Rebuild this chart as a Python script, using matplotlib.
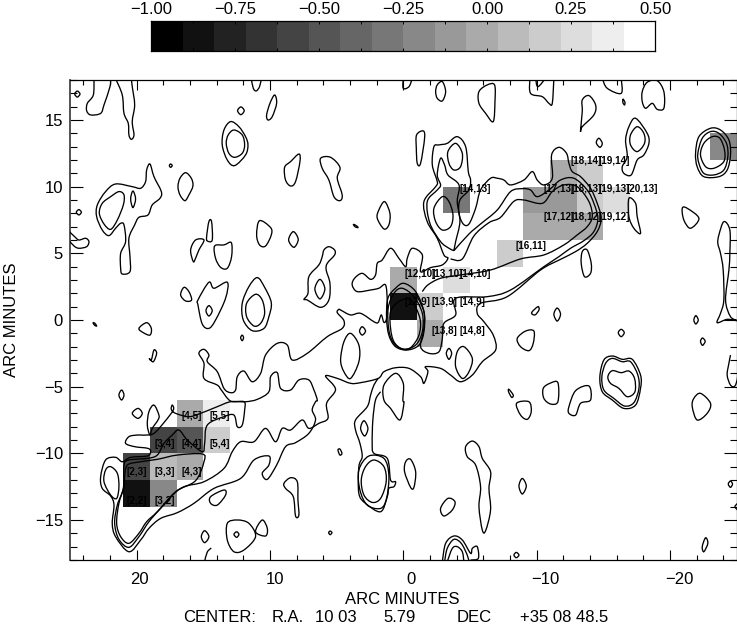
import numpy as np
import matplotlib
matplotlib.use('Agg')
import matplotlib.pyplot as plt
from matplotlib.path import Path
from matplotlib.patches import PathPatch
from matplotlib.colors import ListedColormap, BoundaryNorm
from matplotlib.ticker import MultipleLocator
from matplotlib.transforms import ScaledTranslation

plt.rcParams['font.family'] = ['Liberation Sans', 'DejaVu Sans']

# optical depth cells, pixel indices (i, j) and value
cell_i = [2, 3, 2, 3, 4, 3, 4, 5, 4, 5, 12, 14, 12, 13, 13, 16, 14, 17, 18, 19, 17, 18, 19, 20, 18, 19, 24]
cell_j = [2, 2, 3, 3, 3, 4, 4, 4, 5, 5, 10, 10, 9, 9, 8, 11, 13, 12, 12, 12, 13, 13, 13, 13, 14, 14, 15]
cell_val = [-0.86, -0.20, -0.58, 0.08, -0.02, -0.58, -0.48, 0.17, -0.02, 0.36, -0.02, 0.27, -0.86, 0.17, -0.02,
            0.17, -0.30, -0.02, -0.02, -0.02, -0.11, -0.11, 0.17, 0.27, -0.02, 0.17, -0.20]

label_i = [2, 3, 2, 3, 4, 3, 4, 5, 4, 5, 12, 13, 14, 12, 13, 14, 13, 14, 16, 14, 17, 18, 19, 17, 18, 19, 20, 18, 19]
label_j = [2, 2, 3, 3, 3, 4, 4, 4, 5, 5, 10, 10, 10, 9, 9, 9, 8, 8, 11, 13, 12, 12, 12, 13, 13, 13, 13, 14, 14]

x_ticks = [20, 10, 0, -10, -20]
y_ticks = [15, 10, 5, 0, -5, -10, -15]
bar_ticks = [-1.00, -0.75, -0.50, -0.25, 0.00, 0.25, 0.50]
bar_levels = np.arange(0, 16) * 17

# radio contours, in arc minutes
main_west = [(1.25, 0.13), (1.45, -0.18), (1.65, 0.38), (1.88, -0.18), (2.2, -0.13), (3.2, 0.5), (3.95, 0.38), (4.7, 0.75),
             (4.83, 0.8), (4.95, 0.55), (4.45, -0.05), (4.58, -0.63), (5.7, -1.25), (7.2, -2.5), (8.33, -3.0), (8.7, -1.88),
             (9.45, -1.75), (10.33, -2.63), (10.7, -4.0), (11.33, -4.63), (11.95, -3.83), (12.45, -4.25), (12.58, -5.25),
             (12.95, -5.45), (13.45, -5.13), (13.95, -3.88), (14.7, -3.13), (14.58, -2.63), (14.95, -2.2), (15.33, -2.5),
             (14.95, -3.25), (14.95, -4.38), (13.95, -4.88), (13.65, -5.25), (12.95, -6.08), (11.95, -6.13), (11.9, -6.75),
             (12.08, -7.88), (12.45, -8.0), (12.7, -7.13), (13.45, -7.25), (14.7, -7.88), (14.9, -9.25), (15.08, -9.88),
             (16.2, -9.0), (16.83, -8.25), (17.33, -8.63), (17.95, -9.25), (18.45, -10.13), (19.2, -10.38), (20.58, -10.5),
             (20.95, -10.88), (21.0, -12.63), (21.45, -13.88), (21.65, -15.25), (21.33, -16.45), (20.58, -17.05),
             (19.83, -16.25), (19.08, -15.13), (18.2, -14.13), (16.7, -12.63), (14.95, -12.13), (13.45, -11.13),
             (12.83, -9.88), (12.2, -9.13), (11.2, -9.13), (10.33, -8.13), (9.58, -9.13), (9.08, -8.13), (8.45, -8.25),
             (7.58, -7.5), (7.08, -8.13), (6.33, -7.75), (5.65, -7.38), (5.75, -6.25), (5.08, -5.2), (5.83, -4.2),
             (4.95, -4.38), (3.95, -4.75), (3.2, -4.7), (1.88, -4.38), (1.45, -3.88), (0.58, -3.58), (-0.43, -3.63),
             (-1.3, -4.25), (-1.55, -4.75), (-1.85, -3.88), (-1.68, -3.5), (-2.8, -3.63), (-3.55, -4.13), (-4.3, -4.63),
             (-5.18, -4.13), (-5.93, -3.13), (-6.93, -2.25), (-6.75, -1.13), (-6.05, -0.13), (-5.55, 0.5), (-5.8, 1.25),
             (-7.8, 1.75), (-10.3, 3.75), (-11.8, 4.55), (-12.93, 5.13), (-13.8, 5.75), (-14.55, 6.63), (-14.85, 7.63),
             (-14.55, 8.75), (-14.05, 9.88), (-13.3, 10.75), (-12.68, 11.13), (-12.43, 11.75), (-12.25, 12.5), (-11.68, 12.95),
             (-11.13, 12.38), (-11.18, 10.63), (-10.55, 10.13), (-10.05, 10.5), (-9.68, 11.13), (-9.05, 10.5), (-8.05, 10.13),
             (-7.55, 10.5), (-7.05, 10.63), (-6.55, 10.63), (-5.8, 9.75), (-5.43, 8.38), (-4.93, 7.2), (-4.5, 7.2), (-4.18, 8.0),
             (-4.25, 9.0), (-4.93, 9.75), (-5.05, 10.5), (-4.88, 11.13), (-4.68, 13.0), (-4.05, 13.75), (-3.3, 13.25),
             (-2.68, 13.13), (-2.3, 13.0), (-2.18, 11.63), (-2.55, 10.38), (-2.43, 10.0), (-1.55, 8.88), (-1.8, 7.38),
             (-2.55, 6.13), (-3.05, 4.88), (-3.35, 4.63), (-2.93, 4.13), (-2.05, 3.93), (-1.3, 3.63), (-1.43, 4.88),
             (-0.68, 5.38), (-0.3, 4.63), (-0.18, 4.0), (0.33, 4.63), (0.95, 5.38), (1.58, 4.5), (1.95, 4.25), (2.08, 3.38),
             (2.45, 3.05), (3.08, 3.5), (3.65, 3.13), (3.83, 2.63), (3.45, 2.13), (2.45, 2.25), (1.83, 2.38), (1.33, 2.63),
             (1.2, 1.38)]
lobe_outer = [(6.45, -6.0), (6.7, -5.25), (7.08, -4.5), (7.83, -4.5), (8.45, -5.25), (9.2, -5.13), (9.45, -3.95), (9.95, -4.25),
              (10.08, -5.38), (10.95, -5.95), (11.83, -6.13), (12.95, -6.13), (13.95, -6.5), (15.2, -7.0), (16.08, -7.25),
              (17.08, -7.0), (17.4, -6.7), (17.33, -6.38), (17.25, -6.75), (17.9, -7.63), (18.7, -8.5), (19.33, -8.63),
              (19.95, -8.63), (20.58, -8.75), (20.83, -9.25), (20.15, -9.5), (19.15, -9.63), (18.95, -9.88), (19.2, -10.2),
              (20.45, -10.3), (21.08, -10.63), (21.58, -10.3), (22.33, -10.5), (22.7, -11.75), (22.58, -12.63), (21.95, -13.2),
              (21.7, -13.88), (21.83, -15.25), (21.58, -16.25), (20.58, -17.38), (19.7, -16.5), (19.08, -15.63), (18.2, -14.88),
              (16.95, -14.45), (15.7, -13.75), (14.2, -12.63), (12.2, -11.88), (11.2, -10.5), (10.08, -10.2), (10.08, -10.88),
              (10.58, -11.5), (10.2, -11.95), (9.5, -10.88), (8.83, -9.5), (8.08, -9.2), (7.08, -8.5), (6.58, -7.5), (6.83, -6.75),
              (6.58, -6.13)]
lobe_inner = [(21.5, -15.25), (21.2, -16.25), (20.58, -16.75), (19.83, -16.0), (19.25, -15.13), (18.45, -14.38), (17.08, -12.88),
              (15.58, -12.05), (14.95, -10.63), (15.08, -10.05), (16.95, -10.13), (18.45, -10.45), (19.7, -10.63), (20.7, -10.88),
              (20.9, -11.75), (20.95, -12.5), (21.33, -13.75)]
lobe_loop = [(22.33, -11.25), (21.95, -11.0), (21.45, -11.5), (21.33, -12.5), (21.5, -13.38), (21.95, -13.13), (22.45, -12.13)]
jet_second = [(-3.8, 5.2), (-4.93, 6.45), (-5.8, 7.2), (-7.05, 8.25), (-8.05, 9.63), (-8.93, 9.85), (-9.55, 9.75), (-10.05, 9.25),
              (-10.93, 9.75), (-11.8, 10.5), (-12.8, 10.63), (-13.8, 9.75), (-14.3, 8.75), (-14.6, 7.63), (-14.3, 6.63),
              (-13.55, 5.95), (-12.55, 5.38), (-11.68, 4.75), (-10.55, 4.0), (-8.05, 2.25), (-6.3, 1.75), (-3.93, 1.63),
              (-3.93, 0.38), (-3.05, -0.25), (-2.93, -1.38), (-2.68, -2.38), (-1.93, -2.5), (-1.3, -2.0), (-1.55, -0.63),
              (-1.55, 0.63), (-0.93, 2.0)]
jet_second_north = [(-3.8, 5.2), (-3.43, 5.38), (-2.8, 5.88), (-2.0, 7.25), (-1.8, 8.88), (-2.55, 9.75), (-2.8, 10.13), (-2.55, 10.88),
                    (-2.8, 12.13), (-3.1, 11.63), (-3.35, 10.88), (-4.18, 10.13), (-4.05, 8.88), (-4.25, 7.38), (-3.93, 5.88),
                    (-3.8, 5.2)]
jet_third = [(-3.55, 4.58), (-4.43, 4.58), (-5.3, 6.3), (-6.43, 7.3), (-7.3, 7.7), (-8.3, 8.9), (-9.05, 9.0), (-10.43, 8.75),
             (-11.18, 9.63), (-12.05, 10.13), (-13.05, 10.0), (-13.93, 8.88), (-14.18, 7.75), (-13.8, 7.0), (-13.05, 6.38),
             (-12.05, 5.63), (-10.55, 4.88), (-8.8, 4.58), (-6.55, 3.75), (-4.3, 3.38), (-2.8, 3.13), (-1.85, 2.63), (-1.43, 2.13)]
south_chain = [(1.7, -5.38), (2.08, -6.0), (2.28, -7.5), (2.33, -9.25), (2.2, -10.0), (1.2, -10.38), (0.95, -12.0), (0.58, -12.13),
               (0.7, -12.5), (1.08, -12.63), (1.2, -13.25), (1.7, -14.38), (2.83, -13.75), (3.33, -13.0), (3.33, -11.0),
               (3.08, -10.25), (3.25, -9.25), (3.58, -8.25), (3.58, -7.5), (2.7, -6.5), (2.45, -5.63), (2.2, -4.88), (1.88, -4.38)]

core_outer = [(-0.05, 2.75), (-0.93, 2.13), (-1.55, 0.63), (-1.55, -0.88), (-1.18, -1.88), (-0.3, -2.25), (0.58, -2.0), (1.08, -1.13),
              (1.25, 0.13), (1.15, 1.63), (0.58, 2.38)]
core_mid = [(0.08, 2.38), (-0.8, 1.75), (-1.43, 0.5), (-1.43, -0.88), (-0.93, -1.88), (-0.05, -2.18), (0.7, -1.75), (1.08, -0.75),
            (1.13, 0.88), (0.7, 2.0)]
core_inner = [(0.95, 0.63), (0.33, 1.38), (-0.55, 1.5), (-1.25, 0.13), (-1.18, -1.13), (-0.55, -2.08), (0.08, -2.18), (0.7, -1.63),
              (0.95, -0.63)]

closed_contours = [
    main_west, lobe_outer, lobe_inner, lobe_loop, core_outer, core_mid, core_inner,
    [(24.65, 16.95), (24.45, 17.17), (24.25, 16.95), (24.45, 16.72)],
    [(12.95, 14.88), (12.33, 14.5), (11.83, 13.75), (11.65, 13.13), (11.83, 12.38), (12.65, 11.58), (13.2, 12.0), (13.58, 13.13), (13.45, 14.25)],
    [(12.7, 14.25), (12.08, 13.88), (11.9, 13.13), (12.08, 12.5), (12.65, 12.2), (13.08, 12.5), (13.28, 13.25), (13.13, 13.88)],
    [(12.43, 15.7), (12.18, 15.98), (11.93, 15.7), (12.18, 15.4)],
    [(9.65, 16.88), (9.5, 16.25), (9.83, 15.25), (10.15, 15.0), (10.25, 15.38), (10.0, 16.25)],
    [(17.55, 11.58), (17.45, 11.7), (17.33, 11.58), (17.45, 11.45)],
    [(16.33, 11.05), (15.9, 10.63), (15.78, 10.05), (16.08, 9.38), (16.38, 8.95), (16.75, 9.38), (16.9, 10.0), (16.75, 10.63)],
    [(19.0, 11.7), (18.7, 10.75), (18.15, 9.63), (18.25, 9.13), (18.83, 8.63), (19.15, 7.88), (19.83, 7.7), (20.15, 7.13), (20.58, 6.13),
     (20.5, 4.75), (20.5, 3.63), (21.08, 3.45), (21.2, 3.88), (21.2, 5.0), (20.83, 5.88), (20.95, 7.13), (21.2, 7.25), (21.58, 6.88),
     (22.08, 6.33), (22.58, 6.75), (23.0, 7.75), (22.95, 8.63), (22.33, 9.63), (21.58, 10.2), (20.33, 10.0), (19.7, 9.88), (19.33, 10.38),
     (19.25, 11.25)],
    [(21.33, 9.63), (20.95, 9.38), (21.0, 8.63), (21.45, 7.5), (21.95, 6.8), (22.45, 7.2), (22.8, 8.0), (22.58, 8.75), (21.95, 9.25)],
    [(20.28, 9.68), (20.08, 9.08), (20.28, 8.43), (20.45, 9.08)],
    [(24.53, 8.08), (24.33, 8.28), (24.15, 8.08), (24.33, 7.88)],
    [(15.75, 4.38), (15.95, 5.25), (15.58, 6.0), (14.95, 6.0), (15.33, 5.25), (15.58, 4.63)],
    [(14.58, 7.38), (14.38, 7.38), (14.33, 6.0), (14.7, 5.93), (14.75, 6.25)],
    [(14.15, 5.55), (13.45, 5.63), (12.9, 5.8), (12.88, 4.75), (13.2, 3.88), (13.7, 3.95), (14.08, 4.63)],
    [(10.78, 7.45), (9.95, 6.93), (9.9, 6.38), (10.33, 5.55), (10.78, 5.63), (11.0, 6.38)],
    [(8.25, 6.63), (7.88, 6.05), (8.2, 5.45), (8.6, 6.0)],
    [(3.75, 7.18), (3.53, 7.08), (3.38, 6.93), (3.6, 6.98)],
    [(16.45, 2.45), (16.08, 2.13), (15.88, 1.5), (16.33, 1.43), (16.7, 1.88)],
    [(15.4, 1.5), (14.58, 2.83), (14.2, 2.38), (13.2, 2.83), (13.33, 1.63), (14.08, 0.0), (14.58, -0.63), (15.08, -0.3), (15.4, 1.13)],
    [(14.58, 1.08), (14.33, 0.7), (14.58, 0.3), (14.8, 0.7)],
    [(10.95, 3.18), (10.4, 2.45), (9.9, 1.3), (10.08, 0.25), (10.45, -0.63), (11.33, -0.8), (12.0, 0.0), (12.08, 1.25), (11.58, 2.5)],
    [(11.08, 1.93), (10.58, 1.5), (10.4, 0.5), (10.7, -0.25), (11.2, -0.45), (11.75, 0.25), (11.75, 1.25)],
    [(5.58, 5.5), (5.15, 5.25), (5.15, 4.88), (5.7, 4.25), (5.78, 3.75), (5.5, 2.75), (5.58, 1.5), (6.2, 0.95), (7.2, 1.5), (7.45, 1.55),
     (7.15, 2.0), (7.08, 3.25), (6.33, 4.13), (6.08, 4.75), (5.95, 5.25)],
    [(6.25, 3.05), (5.88, 2.33), (6.25, 1.58), (6.63, 2.33)],
    [(6.2, 12.13), (5.45, 12.2), (4.75, 11.45), (4.95, 10.63), (4.58, 9.38), (4.75, 8.95), (5.2, 9.25), (5.58, 10.5), (6.08, 11.38)],
    [(7.83, 12.45), (7.75, 11.88), (8.08, 10.38), (8.45, 10.05), (8.83, 10.5), (8.9, 11.45), (8.45, 11.88)],
    [(23.28, -0.2), (23.13, -0.25), (23.0, -0.45), (23.15, -0.4)],
    [(19.83, -0.63), (19.25, -0.2), (18.9, -0.63), (19.0, -1.13), (19.5, -0.95)],
    [(18.9, -3.0), (18.7, -2.25), (18.5, -2.5), (18.75, -3.13), (19.05, -2.88)],
    [(21.13, -5.25), (20.95, -5.63), (21.13, -6.0), (21.33, -5.63)],
    [(12.08, -1.13), (11.98, -1.33), (12.08, -1.55), (12.2, -1.33)],
    [(18.7, -6.38), (18.33, -7.13), (18.4, -7.5), (18.83, -8.13), (19.0, -8.63), (19.2, -7.88), (19.08, -6.88)],
    [(20.33, -7.0), (19.9, -6.63), (19.58, -7.0), (19.9, -7.38)],
    [(14.45, -13.25), (13.45, -12.75), (13.33, -13.13), (13.95, -13.88), (14.45, -13.75)],
    [(14.9, -15.8), (14.58, -16.25), (14.9, -16.7), (15.15, -16.25)],
    [(12.5, -15.88), (12.33, -16.08), (12.5, -16.3), (12.7, -16.08)],
    [(13.2, -15.25), (12.45, -15.0), (11.58, -15.25), (11.08, -16.25), (11.95, -17.25), (12.7, -17.38), (13.2, -16.5)],
    [(11.08, -15.88), (10.58, -15.0), (10.2, -15.63), (10.33, -16.2)],
    [(4.9, -9.75), (4.75, -9.68), (4.6, -10.0), (4.75, -10.13)],
    [(5.6, -15.95), (5.48, -15.83), (5.35, -15.95), (5.48, -16.1)],
    [(8.95, -12.25), (8.45, -11.83), (7.95, -12.13), (7.9, -13.5), (7.83, -14.63), (8.08, -14.7), (8.25, -13.25), (8.83, -12.63)],
    [(2.95, -7.55), (2.65, -8.13), (2.9, -8.7), (3.2, -8.13)],
    [(2.58, -10.2), (1.45, -10.38), (1.08, -11.63), (1.25, -13.38), (1.7, -14.13), (2.7, -13.88), (3.25, -12.75), (3.33, -11.25)],
    [(2.2, -10.5), (1.45, -11.0), (1.28, -12.13), (1.7, -13.38), (2.33, -13.68), (2.95, -13.13), (3.15, -12.0), (2.83, -11.0)],
    [(-0.18, -10.63), (-0.55, -10.45), (-0.93, -11.38), (-0.8, -12.55), (-0.55, -12.55), (-0.1, -11.38)],
    [(-2.8, -14.13), (-3.35, -13.38), (-3.88, -13.63), (-3.68, -14.25), (-3.05, -14.7)],
    [(-4.68, -9.5), (-5.18, -9.08), (-5.68, -9.5), (-5.93, -10.38), (-6.55, -11.38), (-6.43, -12.63), (-6.55, -14.25), (-6.18, -15.8),
     (-5.93, -15.75), (-5.68, -14.0), (-5.8, -12.5), (-5.43, -10.88), (-4.8, -10.25)],
    [(1.45, -4.88), (0.58, -4.0), (0.0, -4.75), (0.03, -6.0), (-0.05, -6.25), (0.25, -7.5), (0.95, -6.63), (1.45, -6.0)],
    [(-4.55, -2.0), (-5.18, -2.88), (-4.93, -3.88), (-4.43, -4.38), (-3.93, -3.5), (-4.05, -2.38)],
    [(-3.43, -2.13), (-3.63, -2.5), (-3.43, -2.95), (-3.23, -2.5)],
    [(3.08, -0.5), (2.83, -0.83), (3.08, -1.13), (3.28, -0.83)],
    [(3.95, -1.0), (3.33, -1.88), (3.33, -3.13), (3.95, -4.38), (4.45, -3.88), (4.7, -3.0), (4.45, -1.63)],
    [(-2.93, 9.25), (-3.43, 8.88), (-3.73, 7.88), (-3.55, 7.0), (-2.93, 6.75), (-2.43, 7.38), (-2.3, 8.38)],
    [(-3.93, 13.25), (-4.43, 12.5), (-4.3, 11.5), (-3.8, 11.25), (-3.43, 11.75), (-3.35, 12.63)],
    [(-2.55, 17.63), (-2.93, 17.88), (-3.18, 17.13), (-2.93, 16.43), (-2.55, 16.63), (-2.43, 17.13)],
    [(-5.68, 17.13), (-6.3, 17.63), (-6.85, 17.63), (-6.88, 16.38), (-6.75, 14.88), (-6.18, 15.5), (-5.68, 16.25)],
    [(-1.0, 13.88), (-1.5, 14.18), (-1.6, 13.63), (-1.3, 11.75), (-1.05, 11.75), (-0.98, 12.88)],
    [(1.4, 8.88), (1.0, 8.0), (1.08, 7.13), (1.45, 6.83), (1.95, 7.63), (1.83, 8.25)],
    [(-10.1, 1.0), (-10.18, 0.75), (-9.88, 0.38), (-9.63, 0.55)],
    [(-11.55, 0.9), (-11.8, 0.43), (-11.55, -0.08), (-11.3, 0.43)],
    [(-8.55, -1.38), (-9.18, -0.83), (-9.8, -0.83), (-9.75, -1.75), (-9.43, -2.3), (-8.8, -2.0)],
    [(-16.13, -0.95), (-16.35, -0.7), (-16.58, -0.95), (-16.35, -1.25)],
    [(-21.95, 0.33), (-22.13, 0.0), (-21.95, -0.3), (-21.8, 0.0)],
    [(-22.3, -1.6), (-22.45, -1.35), (-22.65, -1.6), (-22.45, -1.9)],
    [(-22.3, -5.5), (-23.05, -6.25), (-22.8, -7.0), (-22.05, -7.5), (-21.68, -6.5), (-21.8, -5.88)],
    [(-24.38, -12.3), (-24.55, -12.08), (-24.7, -12.3), (-24.55, -12.55)],
    [(-22.68, -16.33), (-22.85, -16.75), (-22.55, -17.38), (-22.43, -17.0)],
    [(-8.3, -17.63), (-8.48, -17.43), (-8.68, -17.63), (-8.48, -17.83)],
    [(-8.93, -11.88), (-9.23, -12.45), (-8.93, -13.05), (-8.68, -12.45)],
    [(-7.93, -5.2), (-8.25, -5.63), (-8.13, -5.8), (-7.9, -5.38)],
    [(-8.5, -6.25), (-9.43, -6.13), (-9.6, -6.88), (-9.3, -7.45), (-8.8, -7.13)],
    [(-10.5, -5.13), (-11.0, -4.75), (-11.6, -4.7), (-11.6, -6.13), (-11.05, -6.3), (-10.55, -5.88)],
    [(-12.93, -5.3), (-13.93, -4.95), (-14.05, -6.0), (-13.3, -6.25), (-12.93, -7.13), (-12.43, -7.0), (-12.43, -6.5)],
    [(-15.68, -2.7), (-16.43, -2.95), (-17.18, -2.95), (-17.8, -4.13), (-17.8, -5.13), (-17.43, -6.38), (-16.55, -6.63), (-15.68, -6.0),
     (-14.93, -5.38), (-14.75, -4.25), (-15.05, -3.0)],
    [(-15.68, -2.88), (-16.43, -3.13), (-17.05, -3.13), (-17.6, -4.13), (-17.68, -5.13), (-17.3, -6.2), (-16.6, -6.45), (-15.8, -5.88),
     (-15.05, -5.25), (-14.9, -4.25), (-15.18, -3.25)],
    [(-15.68, -3.8), (-16.35, -3.95), (-16.93, -3.83), (-17.35, -4.38), (-17.38, -5.38), (-16.8, -5.75), (-16.18, -5.13), (-15.55, -4.75),
     (-15.35, -4.25)],
    [(-13.3, 14.18), (-13.43, 15.63), (-13.43, 16.5), (-13.93, 16.83), (-14.43, 16.13), (-14.3, 15.38), (-13.43, 14.5)],
    [(-16.48, 16.58), (-16.63, 16.33), (-16.6, 16.13), (-16.48, 16.3)],
    [(-17.93, 17.13), (-18.3, 17.83), (-19.05, 17.95), (-19.55, 17.13), (-19.55, 15.88), (-19.05, 15.8), (-18.68, 16.25), (-18.18, 15.88), (-17.93, 16.38)],
    [(-14.48, 13.3), (-14.68, 13.63), (-14.93, 13.25), (-14.75, 12.95)],
    [(-16.68, 13.5), (-16.93, 14.5), (-17.43, 15.13), (-18.3, 14.0), (-18.43, 13.25), (-18.05, 12.38), (-17.55, 12.0), (-17.1, 10.88), (-16.55, 11.0), (-16.43, 11.5), (-16.8, 12.25)],
    [(-17.55, 14.5), (-18.05, 14.0), (-18.1, 13.25), (-17.55, 12.63), (-17.05, 13.13), (-17.05, 13.88)],
    [(-21.93, 12.5), (-22.18, 13.75), (-23.05, 14.38), (-23.8, 14.25), (-24.43, 13.5), (-24.55, 12.38), (-24.3, 11.25), (-23.68, 10.75), (-22.55, 10.75), (-22.05, 11.5)],
    [(-22.1, 12.5), (-22.43, 13.63), (-23.05, 14.13), (-23.68, 14.0), (-24.25, 13.25), (-24.35, 12.25), (-24.05, 11.25), (-23.3, 10.88), (-22.55, 11.0), (-22.18, 11.75)],
    [(-22.3, 12.38), (-22.55, 13.25), (-23.18, 13.75), (-23.75, 13.63), (-24.1, 12.75), (-24.05, 11.88), (-23.3, 11.38), (-22.68, 11.5)],
    [(-20.93, 8.38), (-21.3, 8.38), (-22.18, 7.63), (-21.55, 6.88), (-21.05, 7.5)],
    [(-16.93, 9.13), (-17.43, 8.75), (-17.55, 7.75), (-17.8, 6.5), (-17.3, 6.88), (-16.93, 7.75)],
    [(-13.43, 5.13), (-13.8, 5.25), (-14.1, 4.25), (-14.05, 3.5), (-13.6, 3.25), (-13.35, 4.25)],
    [(-24.05, 7.38), (-24.5, 6.75), (-24.5, 5.0), (-24.43, 3.75), (-24.18, 1.5), (-24.55, 0.25), (-25.08, -0.05), (-24.3, 0.05), (-23.55, -0.2), (-23.8, 0.5), (-24.05, 1.5), (-24.0, 3.75), (-23.8, 5.0), (-23.6, 5.75), (-23.68, 6.38)],
]

open_contours = [
    jet_second, jet_second_north, jet_third, south_chain,
    [(23.2, 18.1), (23.25, 16.88), (23.7, 16.25), (23.75, 15.7), (23.45, 15.38), (22.7, 15.5), (22.45, 16.13), (22.0, 17.5), (21.95, 18.1)],
    [(21.58, 18.1), (21.08, 16.88), (20.95, 15.5), (20.63, 14.75), (20.58, 13.88), (20.4, 13.55), (20.2, 13.88), (20.33, 14.88), (20.15, 16.13), (20.33, 17.5), (20.4, 18.1)],
    [(11.4, 18.1), (11.25, 17.38), (11.03, 17.18), (10.78, 17.5), (10.65, 18.1)],
    [(25.1, 6.68), (24.65, 6.25), (24.33, 6.0), (23.83, 6.13), (23.58, 5.88), (23.75, 5.5), (24.33, 5.38), (24.7, 5.55), (25.1, 6.0)],
    [(14.4, -17.1), (14.7, -17.4), (14.9, -18.1)],
    [(-2.93, -18.13), (-3.18, -16.75), (-3.8, -16.2), (-4.43, -16.5), (-5.05, -17.5), (-5.18, -17.13), (-5.55, -17.0), (-5.63, -17.88), (-5.05, -18.0)],
    [(-3.1, -18.13), (-3.3, -17.13), (-3.8, -16.45), (-4.35, -16.75), (-4.8, -17.63), (-4.93, -18.13)],
    [(-3.3, -18.13), (-3.68, -17.13), (-4.05, -17.0), (-4.43, -17.38), (-4.55, -18.13)],
    [(0.0, 18.13), (0.0, 17.38), (-0.43, 17.5), (-0.68, 18.13)],
    [(-9.5, 18.13), (-9.55, 17.0), (-10.43, 16.75), (-10.93, 16.25), (-11.18, 16.25), (-11.3, 18.13)],
    [(-9.93, 18.13), (-10.1, 17.5), (-10.68, 18.13)],
    [(-14.93, 18.13), (-15.3, 17.38), (-16.35, 17.0), (-16.35, 18.13)],
    [(-24.55, -2.63), (-24.43, -3.25), (-24.3, -4.13), (-24.55, -4.88), (-24.88, -4.95), (-25.08, -4.25), (-25.08, -3.0)],
    [(-25.08, -13.75), (-24.88, -14.0), (-25.08, -14.25)],
]

footer_words = ['CENTER:', 'R.A.', '10 03', '5.79', 'DEC', '+35 08 48.5']


def contour_patch(pts, closed):
    # smooth line through the traced points, Catmull-Rom written as bezier segments
    p = np.array(pts, dtype=float)
    if closed:
        p = np.vstack([p[-1], p, p[0], p[1]])
    else:
        p = np.vstack([p[0], p, p[-1]])
    verts = [p[1]]
    codes = [Path.MOVETO]
    for k in range(1, len(p) - 2):
        verts += [p[k] + (p[k + 1] - p[k - 1]) / 6, p[k + 1] - (p[k + 2] - p[k]) / 6, p[k + 1]]
        codes += [Path.CURVE4] * 3
    return PathPatch(Path(verts, codes), fc='none', ec='black', lw=0.95, zorder=3)


W, H = 737.0, 627.0
fig = plt.figure(figsize=(W / 100, H / 100), dpi=100)
ax = fig.add_axes([70 / W, (H - 560) / H, 666.5 / W, 480 / H])
cax = fig.add_axes([151 / W, (H - 51) / H, 504 / W, 30 / H])

bounds = np.linspace(-1.0, 0.5, 17)
cmap = ListedColormap([(g / 255.0,) * 3 for g in bar_levels])
norm = BoundaryNorm(bounds, 16)

for i, j, v in zip(cell_i, cell_j, cell_val):
    xc, yc = 24 - 2 * i, 2 * j - 17
    ax.pcolormesh([xc + 1, xc - 1], [yc - 1, yc + 1], [[v]], cmap=cmap, norm=norm, zorder=1)

for c in closed_contours:
    ax.add_patch(contour_patch(c, True))
for c in open_contours:
    ax.add_patch(contour_patch(c, False))

for i, j in zip(label_i, label_j):
    ax.text(20.78 - 2.085 * (i - 2), -13.54 + 2.123 * (j - 2), '[%d,%d]' % (i, j), fontsize=7.1,
            ha='left', va='center', color='black', zorder=4, fontweight='bold')

ax.set_xlim(25, -25)
ax.set_ylim(-18, 18)
ax.set_xticks(x_ticks)
ax.set_yticks(y_ticks)
ax.xaxis.set_minor_locator(MultipleLocator(2))
ax.yaxis.set_minor_locator(MultipleLocator(1))
ax.tick_params(axis='x', which='major', direction='in', top=True, bottom=True, length=7.2, width=0.8, labelsize=12, pad=8.5)
ax.tick_params(axis='x', which='minor', direction='in', top=True, bottom=True, length=3.6, width=0.8)
ax.tick_params(axis='y', which='major', direction='in', left=True, right=True, length=9.6, width=0.8, labelsize=12, pad=5)
ax.tick_params(axis='y', which='minor', direction='in', left=True, right=True, length=4.8, width=0.8)
for s in ax.spines.values():
    s.set_linewidth(0.9)
ax.spines['left'].set_linewidth(1.3)
ax.spines['left'].set_color('#444444')

# the x labels drift away from their ticks in the original plot
label_shift = {20: 3, 10: 5, 0: 8, -10: 9, -20: 10}
for t, lab in zip(x_ticks, ax.get_xticklabels()):
    lab.set_transform(lab.get_transform() + ScaledTranslation(label_shift[t] / 100.0, 0, fig.dpi_scale_trans))

fig.text(402 / W, (H - 600) / H, 'ARC MINUTES', fontsize=12, ha='center', va='center')
footer_left = [183, 272, 315, 383, 457, 520]
for word, left in zip(footer_words, footer_left):
    fig.text(left / W, (H - 618) / H, word, fontsize=12, ha='left', va='center')
fig.text(12 / W, (H - 320) / H, 'ARC MINUTES', fontsize=12, rotation=90, ha='center', va='center')

bar_vals = 0.5 * (bounds[:-1] + bounds[1:])
cax.pcolormesh(bounds, [0, 1], [bar_vals], cmap=cmap, norm=norm)
cax.set_xlim(-1.0, 0.5)
cax.set_ylim(0, 1)
cax.set_yticks([])
cax.set_xticks(bar_ticks)
cax.set_xticklabels(['%.2f' % t if t >= 0 else '\u2212%.2f' % abs(t) for t in bar_ticks])
cax.xaxis.set_minor_locator(MultipleLocator(0.125))
cax.tick_params(axis='x', which='major', direction='in', top=True, bottom=True, labeltop=True, labelbottom=False,
                length=2.4, width=0.7, labelsize=12, pad=3)
cax.tick_params(axis='x', which='minor', direction='in', top=True, bottom=True, length=2.4, width=0.7)
for s in cax.spines.values():
    s.set_linewidth(0.9)

fig.savefig('out.png', dpi=100)
